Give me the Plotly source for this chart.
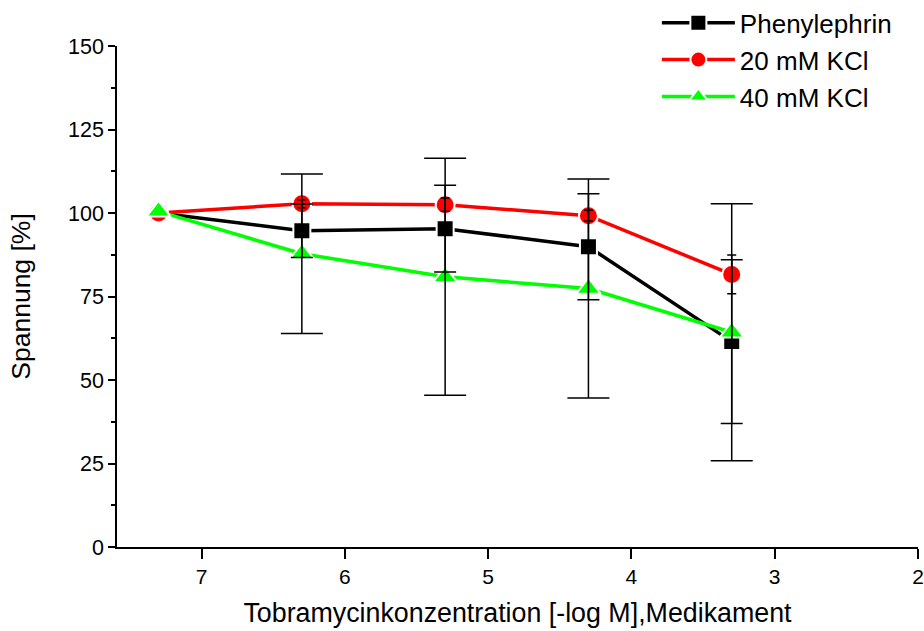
import plotly.graph_objects as go

# ---- data ----
conc = [7.3, 6.3, 5.3, 4.3, 3.3]          # -log M

phenylephrin = [100.0, 94.7, 95.3, 89.9, 61.5]
phenylephrin_err = [0.0, 8.0, 13.0, 15.9, 24.5]

kcl20 = [100.0, 102.8, 102.5, 99.2, 81.6]
kcl20_err = [0.0, 1.2, 2.0, 1.6, 5.8]

kcl40 = [100.5, 87.8, 80.9, 77.4, 64.3]
kcl40_err = [0.0, 23.9, 35.5, 32.8, 38.5]

series_names = ["Phenylephrin", "20 mM KCl", "40 mM KCl"]

y_ticks = [0, 25, 50, 75, 100, 125, 150]
y_minor = [12.5, 37.5, 62.5, 87.5, 112.5, 137.5]
x_ticks = [7, 6, 5, 4, 3, 2]

FONT = "Liberation Sans, Arial, sans-serif"

series = [
    (series_names[0], phenylephrin, phenylephrin_err, "#000000", "square", 17, 11),
    (series_names[1], kcl20, kcl20_err, "#ff0000", "circle", 19, 4.5),
    (series_names[2], kcl40, kcl40_err, "#00ff00", "triangle-up", 21, 21),
]

fig = go.Figure()

for name, vals, err, color, sym, size, cap in series:
    fig.add_trace(go.Scatter(
        x=conc, y=vals, mode="lines+markers", name=name,
        line=dict(color=color, width=3.5),
        marker=dict(symbol=sym, size=size, color=color,
                    line=dict(color="white", width=2)),
        hoverinfo="x+y",
    ))

# error bars drawn on top (black, as in the reference); first point has none
for name, vals, err, color, sym, size, cap in series:
    fig.add_trace(go.Scatter(
        x=conc[1:], y=vals[1:], mode="markers", showlegend=False,
        marker=dict(size=2, opacity=0),
        error_y=dict(type="data", array=err[1:], color="black",
                     thickness=1.5, width=cap),
        hoverinfo="skip",
    ))

fig.update_layout(
    width=924, height=631,
    margin=dict(l=117, r=6, t=46, b=84, autoexpand=False),
    plot_bgcolor="white", paper_bgcolor="white",
    font=dict(family=FONT, color="black", size=21),
    showlegend=True,
    legend=dict(
        x=0.674, y=1.093, xanchor="left", yanchor="top",
        font=dict(family=FONT, size=26, color="black"),
        bgcolor="rgba(0,0,0,0)", itemwidth=73,
        tracegroupgap=0,
    ),
)

fig.update_xaxes(
    range=[7.59, 2], tickvals=x_ticks, ticktext=[str(t) for t in x_ticks],
    showline=True, linecolor="black", linewidth=1.5,
    ticks="outside", ticklen=10, tickwidth=1.5, tickcolor="black",
    showgrid=False, zeroline=False,
    tickfont=dict(size=21),
    title=dict(text="Tobramycinkonzentration [-log M],Medikament",
               font=dict(size=26.8), standoff=16),
)
fig.update_yaxes(
    range=[0, 150], tickvals=y_ticks, ticktext=[str(t) for t in y_ticks],
    showline=True, linecolor="black", linewidth=1.5,
    ticks="outside", ticklen=7, tickwidth=1.5, tickcolor="black",
    minor=dict(tickvals=y_minor, ticks="outside", ticklen=4,
               tickwidth=1.5, tickcolor="black"),
    showgrid=False, zeroline=False,
    tickfont=dict(size=21.5),
    title=dict(text="Spannung [%]", font=dict(size=26.5), standoff=30),
)

fig.write_html("out.html", config={"displayModeBar": False},
               post_script="document.body.style.margin='0';")
